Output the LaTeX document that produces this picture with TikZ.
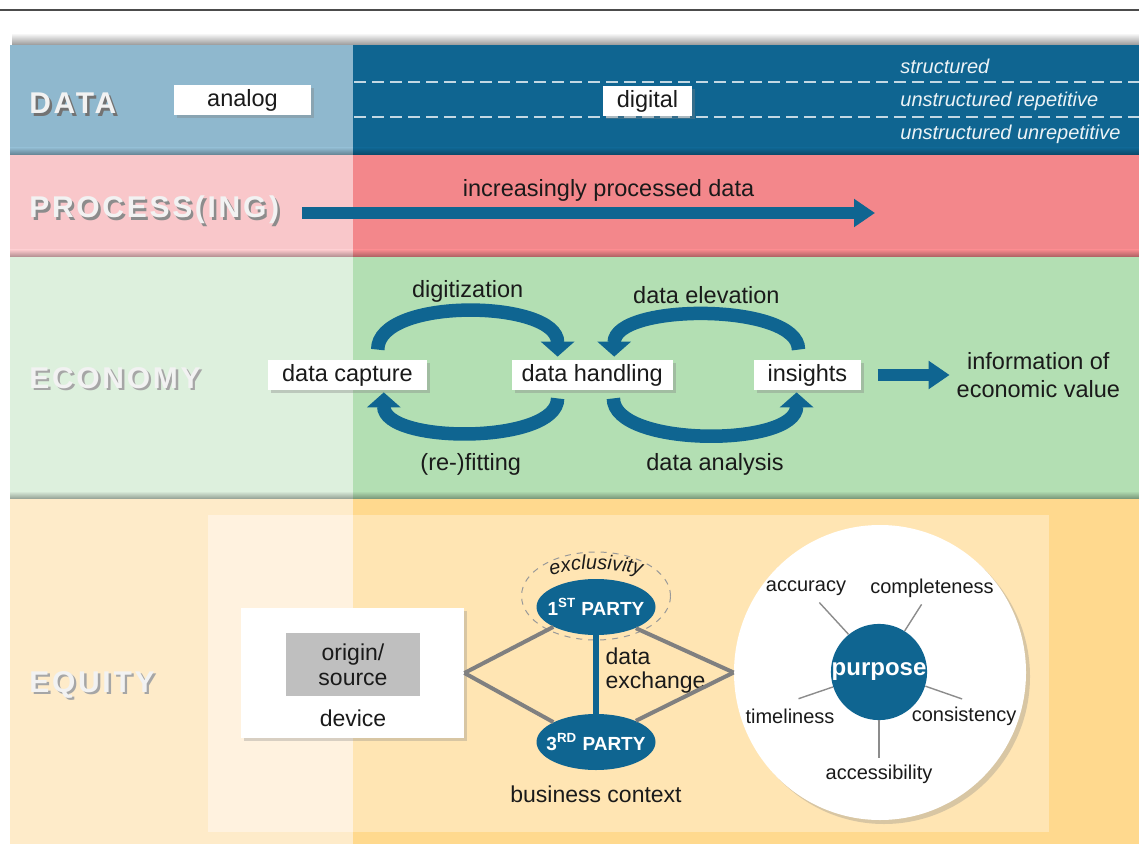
\documentclass[tikz,border=0pt]{standalone}
\usepackage{fontspec}
\setmainfont{Liberation Sans}
\newfontfamily\bandfont{Liberation Sans}[LetterSpace=9]
\usetikzlibrary{positioning,arrows.meta,shapes.geometric,shadows,decorations.text}

\definecolor{datalight}{HTML}{8FB8CE}
\definecolor{datadark}{HTML}{0F6591}
\definecolor{proclight}{HTML}{F9C7CA}
\definecolor{procdark}{HTML}{F3878B}
\definecolor{econlight}{HTML}{DDF0DD}
\definecolor{econdark}{HTML}{B3DFB3}
\definecolor{equilight}{HTML}{FEEBC9}
\definecolor{equidark}{HTML}{FFD98E}
\definecolor{innerlight}{HTML}{FFF2DF}
\definecolor{innerdark}{HTML}{FFE5B3}
\definecolor{srcgray}{HTML}{BFBFBF}
\definecolor{textdark}{HTML}{1A1A1A}

\newcommand\embossed[2]{\rlap{\textcolor{#2}{\kern1.2pt\raisebox{-1.2pt}{#1}}}\textcolor{white!95!black}{#1}}

\begin{document}
\begin{tikzpicture}[x=0.5pt,y=-0.5pt,
    textlabel/.style={text=textdark,font=\fontsize{11.75}{14}\selectfont},
    tagbox/.style={textlabel,fill=white,minimum height=15pt,inner xsep=7pt,inner ysep=0pt,
        drop shadow={opacity=0.35,shadow xshift=1.5pt,shadow yshift=-1.5pt}},
    bandlabel/.style={anchor=base west,inner sep=0pt,font=\bandfont\bfseries\fontsize{15}{17}\selectfont},
    kind/.style={anchor=west,inner sep=0pt,text=white!92!datadark,font=\itshape\fontsize{10}{12}\selectfont},
    fatarrow/.style={draw=datadark,line width=6.25pt,-{Triangle[length=10.5pt,width=13.5pt]}},
    cyclearrow/.style={draw=datadark,line width=6.75pt,-{Triangle[length=7.5pt,width=16.5pt]}},
    party/.style={ellipse,fill=datadark,minimum width=59.5pt,minimum height=28pt,inner xsep=-5pt,inner ysep=0pt,
        text=white,font=\bfseries\fontsize{9.5}{11}\selectfont},
    partyline/.style={draw=black!50,line width=2pt},
    quality/.style={text=textdark,font=\fontsize{10}{12}\selectfont},
    spoke/.style={draw=black!45,line width=0.7pt}]

\useasboundingbox (0,0) rectangle (1139,844);
\fill[white] (0,0) rectangle (1139,844);
\draw[black!70,line width=1pt] (0,10) -- (1139,10);

% bands
\shade[top color=white,bottom color=black!40] (12,33) rectangle (1139,45);
\foreach \ya/\yb/\lc/\dc in {45/155/datalight/datadark,155/257/proclight/procdark,257/498/econlight/econdark,498/844/equilight/equidark}{
    \fill[\lc] (10,\ya) rectangle (353,\yb);
    \fill[\dc] (353,\ya) rectangle (1139,\yb);
}
\foreach \yb/\lc/\dc in {155/datalight/datadark,257/proclight/procdark,498/econlight/econdark}{
    \shade[top color=\lc,bottom color=\lc!70!black] (10,\yb-7) rectangle (353,\yb);
    \shade[top color=\dc,bottom color=\dc!70!black] (353,\yb-7) rectangle (1139,\yb);
}
\fill[innerlight] (208,515) rectangle (353,832);
\fill[innerdark] (353,515) rectangle (1049,832);

% band titles
\node[bandlabel] (datatitle) at (29,114) {\embossed{DATA}{black!55}};
\node[bandlabel] (proctitle) at (29,218) {\embossed{PROCESS(ING)}{black!45}};
\node[bandlabel] (econtitle) at (29,388) {\embossed{ECONOMY}{black!35}};
\node[bandlabel] (equititle) at (29,692) {\embossed{EQUITY}{black!35}};

% data
\foreach \y in {82,117}
    \draw[white!75!datadark,line width=1pt,dash pattern=on 6pt off 3pt] (354,\y) -- (1139,\y);
\node[tagbox,minimum width=68.5pt] (analog) at (242.5,100.5) {analog};
\node[tagbox] (digital) at (647.5,101) {digital};
\node[kind] (structured) at (900,66) {structured};
\node[kind] (repetitive) at (900,101) {unstructured repetitive};
\node[kind] (unrepetitive) at (900,134) {unstructured unrepetitive};

% processing
\coordinate (flowstart) at (302,213);
\coordinate (flowend) at (875,213);
\draw[fatarrow] (flowstart) -- node[pos=0.535,above=-0.5pt,textlabel] {increasingly processed data} (flowend);

% economy
\node[tagbox] (capture) at (347.5,375) {data capture};
\node[tagbox,inner xsep=5pt,right=42pt of capture] (handling) {data handling};
\node[tagbox,right=40pt of handling] (insights) {insights};
\node[textlabel,align=center,right=44pt of insights] (info) {information of\\economic value};
\draw[fatarrow,line width=6pt,shorten <=8pt] (insights) -- (info);
\draw[cyclearrow,shorten <=5pt,shorten >=1.5pt] (capture.27) .. controls +(0,-63) and +(0,-60) .. node[midway,yshift=11pt,textlabel] {digitization} (handling.156);
\draw[cyclearrow,shorten <=5pt,shorten >=1.5pt] (insights.120) .. controls +(0,-57) and +(0,-57) .. node[midway,yshift=11pt,textlabel] {data elevation} (handling.35);
\draw[cyclearrow,shorten <=4pt,shorten >=1pt] (handling.204) .. controls +(0,54) and +(0,54) .. node[midway,below=4.8pt,textlabel] {(re-)fitting} (capture.-23);
\draw[cyclearrow,shorten <=4pt,shorten >=1pt] (handling.-36) .. controls +(0,57) and +(0,57) .. node[midway,below=3.5pt,xshift=5pt,textlabel] {data analysis} (insights.235);

% equity
\node[fill=white,minimum width=111.5pt,minimum height=65pt,
    drop shadow={opacity=0.3,shadow xshift=1.5pt,shadow yshift=-1.5pt}] (device) at (352.5,673) {};
\node[fill=srcgray,minimum width=67pt,minimum height=31.5pt,align=center,
    text=textdark,font=\fontsize{11.5}{12.5}\selectfont] (source) at (353,664.5) {origin/\\source};
\node[textlabel,font=\fontsize{11.5}{14}\selectfont] (devicelabel) at (353,718) {device};

\node[draw=black!40,dashed,line width=0.5pt,ellipse,minimum width=74.5pt,minimum height=44pt] (exclusive) at (596,596) {};
\path[decorate,decoration={text along path,text align=center,
    text={|\itshape\fontsize{10}{12}\selectfont\color{textdark}|exclusivity}}]
    (540,580) .. controls (562,566) and (630,566) .. (652,580);
\node[party] (first) at (596,607) {1\textsuperscript{ST} PARTY};
\node[party] (third) at (596,742) {3\textsuperscript{RD} PARTY};
\node[textlabel,font=\fontsize{11.5}{14}\selectfont,below=4.3pt of third] (context) {business context};
\draw[datadark,line width=3pt] (first) -- node[right,yshift=2pt,textlabel,align=left,font=\fontsize{11.5}{12}\selectfont] {data\\exchange} (third);

\node[ellipse,fill=white,minimum width=146pt,minimum height=147.5pt,
    drop shadow={opacity=0.3,shadow xshift=2pt,shadow yshift=-2pt}] (qualities) at (880,672.5) {};
\draw[partyline] (device.east) -- (first.205);
\draw[partyline] (device.east) -- (third.155);
\draw[partyline] (first.-28) -- (qualities.west);
\draw[partyline] (third.28) -- (qualities.west);

\node[circle,fill=datadark,minimum size=47.5pt,inner sep=0pt,text=white,
    font=\bfseries\fontsize{12}{14}\selectfont] (purpose) at (879,672) {purpose};
\node[quality] (accuracy) at (806,588) {accuracy};
\node[quality] (completeness) at (932,588) {completeness};
\node[quality] (timeliness) at (790,716) {timeliness};
\node[quality] (consistency) at (964,716) {consistency};
\node[quality] (accessibility) at (879,774) {accessibility};
\draw[spoke] (purpose.129) -- (accuracy);
\draw[spoke] (purpose.58) -- (completeness);
\draw[spoke,shorten >=4.5pt] (purpose.198) -- (timeliness.north);
\draw[spoke,shorten >=1pt] (purpose.-17) -- (consistency.north);
\draw[spoke] (purpose) -- (accessibility);
\end{tikzpicture}
\end{document}
